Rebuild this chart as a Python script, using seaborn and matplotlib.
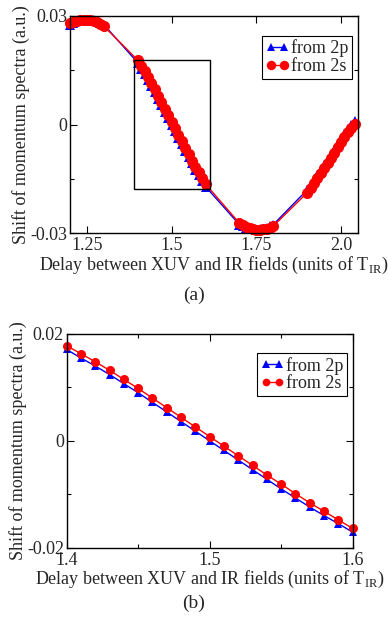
import numpy as np
import pandas as pd
import matplotlib
matplotlib.use("Agg")
import matplotlib.pyplot as plt
import seaborn as sns
from matplotlib.patches import Rectangle
from matplotlib.ticker import FixedLocator

# delay values (units of T_IR)
delay = [1.20, 1.21, 1.22, 1.23, 1.24, 1.25, 1.26, 1.27, 1.28, 1.29, 1.30,
         1.40, 1.41, 1.42, 1.43, 1.44, 1.45, 1.46, 1.47, 1.48, 1.49, 1.50,
         1.51, 1.52, 1.53, 1.54, 1.55, 1.56, 1.57, 1.58, 1.59, 1.60,
         1.70, 1.71, 1.72, 1.73, 1.74, 1.75, 1.76, 1.77, 1.78, 1.79, 1.80,
         1.90, 1.91, 1.92, 1.93, 1.94, 1.95, 1.96, 1.97, 1.98, 1.99, 2.00,
         2.01, 2.02, 2.03, 2.04]

shift_2p = [0.0276, 0.0281, 0.0285, 0.0288, 0.0289, 0.0290, 0.0289, 0.0288, 0.0285, 0.0281, 0.0276,
            0.0171, 0.0155, 0.0140, 0.0124, 0.0107, 0.0090, 0.0072, 0.0054, 0.0036, 0.0018, 0.0000,
            -0.0018, -0.0036, -0.0054, -0.0072, -0.0090, -0.0107, -0.0124, -0.0140, -0.0155, -0.0171,
            -0.0276, -0.0281, -0.0285, -0.0288, -0.0289, -0.0290, -0.0289, -0.0288, -0.0285, -0.0281, -0.0276,
            -0.0180, -0.0167, -0.0154, -0.0140, -0.0126, -0.0112, -0.0098, -0.0084, -0.0069, -0.0054, -0.0040,
            -0.0026, -0.0013, -0.0001, 0.0010]

shift_2s = [0.0280, 0.0284, 0.0287, 0.0289, 0.0290, 0.0290, 0.0288, 0.0286, 0.0283, 0.0278, 0.0272,
            0.0178, 0.0163, 0.0148, 0.0132, 0.0115, 0.0098, 0.0080, 0.0062, 0.0044, 0.0026, 0.0008,
            -0.0010, -0.0028, -0.0046, -0.0064, -0.0081, -0.0099, -0.0116, -0.0132, -0.0148, -0.0164,
            -0.0272, -0.0278, -0.0283, -0.0286, -0.0288, -0.0290, -0.0290, -0.0289, -0.0287, -0.0284, -0.0280,
            -0.0188, -0.0175, -0.0162, -0.0148, -0.0134, -0.0120, -0.0106, -0.0092, -0.0077, -0.0062, -0.0048,
            -0.0034, -0.0021, -0.0009, 0.0002]

df = pd.DataFrame({"delay": delay, "2p": shift_2p, "2s": shift_2s})
zoom = df[(df["delay"] >= 1.395) & (df["delay"] <= 1.605)]

sns.set_theme(style="ticks")
plt.rcParams["font.family"] = ["Liberation Serif", "DejaVu Serif"]
plt.rcParams["mathtext.fontset"] = "custom"
plt.rcParams["mathtext.rm"] = "Liberation Serif"
plt.rcParams["font.size"] = 13

fig = plt.figure(figsize=(3.88, 6.2), dpi=100)
ax1 = fig.add_axes([0.1804, 0.6237, 0.7423, 0.3505])
ax2 = fig.add_axes([0.1719, 0.1166, 0.7371, 0.3447])

xlabel = "Delay between XUV and IR fields (units of T$_{\\rm IR}$)"
ylabel = "Shift of momentum spectra (a.u.)"


def draw(ax, data, ms_c, ms_t, fs, anchor):
    sns.lineplot(data=data, x="delay", y="2p", ax=ax, color="blue", marker="^",
                 markersize=ms_t, markeredgewidth=0, lw=1, label="from 2p",
                 sort=False, errorbar=None)
    sns.lineplot(data=data, x="delay", y="2s", ax=ax, color="red", marker="o",
                 markersize=ms_c, markeredgewidth=0, lw=1, label="from 2s",
                 sort=False, errorbar=None)
    ax.tick_params(which="both", direction="in", top=True, right=True,
                   labelsize=fs, width=0.8, color="black", pad=2)
    ax.tick_params(axis="x", which="both", pad=3)
    ax.tick_params(which="major", length=5)
    ax.tick_params(which="minor", length=3)
    for s in ax.spines.values():
        s.set_linewidth(1)
        s.set_color("black")
    ax.set_xlabel(xlabel, fontsize=fs, labelpad=0)
    ax.set_ylabel(ylabel, fontsize=fs, labelpad=0)
    leg = ax.legend(loc="upper right", bbox_to_anchor=anchor, numpoints=2,
                    handlelength=1.3, handletextpad=0.1, borderpad=0.2,
                    labelspacing=0.05, fancybox=False, framealpha=1,
                    edgecolor="black", fontsize=fs, borderaxespad=0,
                    markerscale=0.85)
    leg.get_frame().set_linewidth(0.8)


# panel (a)
draw(ax1, df, 8, 6.5, 13, (0.979, 0.908))
ax1.set_xlim(1.2, 2.05)
ax1.set_ylim(-0.03, 0.03)
ax1.xaxis.set_major_locator(FixedLocator([1.25, 1.5, 1.75, 2.0]))
ax1.set_xticklabels(["1.25", "1.5", "1.75", "2.0"])
ax1.yaxis.set_major_locator(FixedLocator([-0.03, 0, 0.03]))
ax1.yaxis.set_minor_locator(FixedLocator([-0.015, 0.015]))
ax1.set_yticklabels(["-0.03", "0", "0.03"])
ax1.add_patch(Rectangle((1.39, -0.0178), 0.222, 0.0356, fill=False,
                        edgecolor="black", lw=1, zorder=5))

# panel (b)
draw(ax2, zoom, 6.5, 6, 13, (0.98, 0.911))
ax2.set_xlim(1.4, 1.6)
ax2.set_ylim(-0.02, 0.02)
ax2.xaxis.set_major_locator(FixedLocator([1.4, 1.5, 1.6]))
ax2.xaxis.set_minor_locator(FixedLocator([1.45, 1.55]))
ax2.set_xticklabels(["1.4", "1.5", "1.6"])
ax2.yaxis.set_major_locator(FixedLocator([-0.02, 0, 0.02]))
ax2.yaxis.set_minor_locator(FixedLocator([-0.01, 0.01]))
ax2.set_yticklabels(["-0.02", "0", "0.02"])
for t in ax2.get_yticklabels():
    t.set_verticalalignment("center_baseline")
for d in (ax1, ax2):
    for line in d.get_lines():
        line.set_clip_on(False)

fig.text(0.5, 1 - 295 / 620, "(a)", ha="center", va="center", fontsize=14)
fig.text(0.5, 1 - 603 / 620, "(b)", ha="center", va="center", fontsize=14)

fig.savefig("out.png", dpi=100)
